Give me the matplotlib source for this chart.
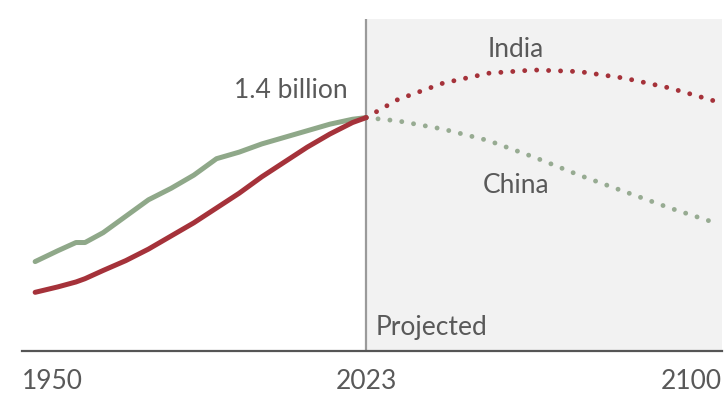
import matplotlib.pyplot as plt
from matplotlib import transforms

# population, billions
years_hist = [1950, 1955, 1959, 1961, 1965, 1970, 1975, 1980, 1985, 1990,
              1995, 2000, 2005, 2010, 2015, 2020, 2023]
china_hist = [0.544, 0.61, 0.66, 0.66, 0.72, 0.82, 0.92, 0.99, 1.07, 1.17,
              1.21, 1.26, 1.30, 1.34, 1.38, 1.41, 1.42]
india_hist = [0.357, 0.39, 0.42, 0.44, 0.49, 0.55, 0.62, 0.70, 0.78, 0.87,
              0.96, 1.06, 1.15, 1.24, 1.32, 1.39, 1.42]

years_proj = [2023, 2030, 2040, 2050, 2060, 2070, 2080, 2090, 2100]
china_proj = [1.42, 1.40, 1.35, 1.28, 1.18, 1.07, 0.97, 0.87, 0.78]
india_proj = [1.42, 1.53, 1.63, 1.69, 1.71, 1.70, 1.66, 1.60, 1.52]

tick_years = [1950, 2023, 2100]

china_col = '#8fa889'
india_col = '#a5323a'
text_col = '#595959'

plt.rcParams['font.family'] = ['Lato', 'DejaVu Sans']

fig = plt.figure(figsize=(7.28, 4.02), dpi=100)
ax = fig.add_axes([22 / 728, 50 / 402, 700 / 728, 332 / 402])

ax.axvspan(2023, 2101.5, color='#f2f2f2', zorder=0, lw=0)
ax.axvline(2023, color='#9a9a9a', lw=1.6, zorder=1)

ax.plot(years_hist, china_hist, color=china_col, lw=3.6, solid_capstyle='round', zorder=3)
ax.plot(years_hist, india_hist, color=india_col, lw=3.6, solid_capstyle='round', zorder=4)
ax.plot(years_proj, china_proj, color='#97ab92', lw=3.5, linestyle=(0, (0.01, 2.45)),
        dash_capstyle='round', zorder=3)
ax.plot(years_proj, india_proj, color=india_col, lw=3.5, linestyle=(0, (0.01, 2.45)),
        dash_capstyle='round', zorder=4)

ax.set_xlim(1947.1, 2101.5)
ax.set_ylim(0, 2.02)

for s in ['top', 'right', 'left']:
    ax.spines[s].set_visible(False)
ax.spines['bottom'].set_color('#555555')
ax.spines['bottom'].set_linewidth(1.6)
ax.set_yticks([])
ax.set_xticks(tick_years)
ax.set_xticklabels([str(y) for y in tick_years], fontsize=19, color=text_col)
ax.tick_params(axis='x', length=0, pad=12)

labels = ax.get_xticklabels()
labels[0].set_ha('left')
labels[0].set_transform(labels[0].get_transform() +
                        transforms.ScaledTranslation(-13 / 100, 0, fig.dpi_scale_trans))
labels[-1].set_ha('right')
labels[-1].set_transform(labels[-1].get_transform() +
                         transforms.ScaledTranslation(7 / 100, 0, fig.dpi_scale_trans))

ax.text(2056, 1.84, 'India', fontsize=19, color=text_col, ha='center', va='center')
ax.text(2056, 1.01, 'China', fontsize=19, color=text_col, ha='center', va='center')
ax.text(2006.5, 1.59, '1.4 billion', fontsize=19, color=text_col, ha='center', va='center')
ax.text(2025, 0.15, 'Projected', fontsize=19, color=text_col, ha='left', va='center')

fig.savefig('out.png', dpi=100)
